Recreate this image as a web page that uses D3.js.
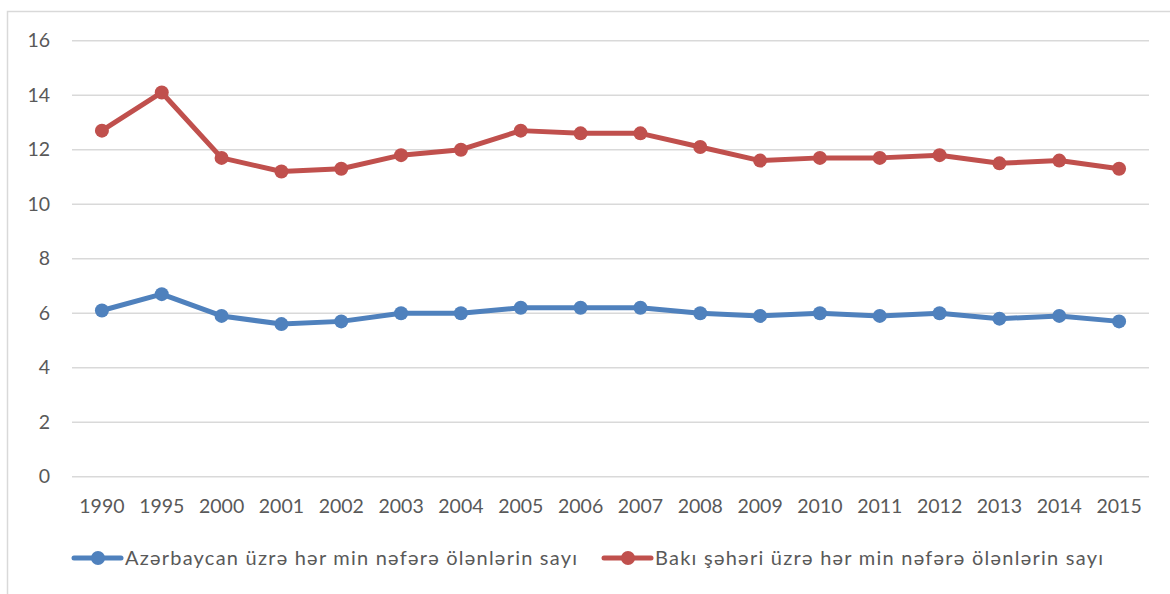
<!DOCTYPE html>
<html>
<head>
<meta charset="utf-8">
<script src="https://cdn.jsdelivr.net/npm/d3@7"></script>
<style>
  body { margin: 0; background: #fff; }
  text { font-family: Lato, "Open Sans", sans-serif; fill: #595959; }
</style>
</head>
<body>
<svg width="1170" height="594"></svg>
<script>
// data
var years = ["1990","1995","2000","2001","2002","2003","2004","2005","2006","2007","2008","2009","2010","2011","2012","2013","2014","2015"];
var azerbaijan = [6.1, 6.7, 5.9, 5.6, 5.7, 6.0, 6.0, 6.2, 6.2, 6.2, 6.0, 5.9, 6.0, 5.9, 6.0, 5.8, 5.9, 5.7];
var baku = [12.7, 14.1, 11.7, 11.2, 11.3, 11.8, 12.0, 12.7, 12.6, 12.6, 12.1, 11.6, 11.7, 11.7, 11.8, 11.5, 11.6, 11.3];
var yTicks = [0, 2, 4, 6, 8, 10, 12, 14, 16];
var seriesNames = ["Azərbaycan üzrə hər min nəfərə ölənlərin sayı", "Bakı şəhəri üzrə hər min nəfərə ölənlərin sayı"];

const color = {
  "az": "#4f81bd",
  "baku": "#c0504d",
  "grid": "#d9d9d9"
};

var svg = d3.select("svg");

// chart frame (cut by the image edges on right/bottom)
svg.append("rect")
  .attr("x", 7.5).attr("y", 11.5)
  .attr("width", 1200).attr("height", 700)
  .attr("fill", "none")
  .attr("stroke", color.grid)
  .attr("stroke-width", 1.5);

var x = d3.scaleBand().domain(years).range([72, 1149]);
var y = d3.scaleLinear().domain([0, 16]).range([476.7, 40.7]);

// gridlines
svg.append("g")
  .selectAll("line")
  .data(yTicks)
  .enter().append("line")
  .attr("x1", 72).attr("x2", 1149)
  .attr("y1", d => y(d)).attr("y2", d => y(d))
  .attr("stroke", color.grid)
  .attr("stroke-width", 1.5);

// y axis labels
var yAxis = svg.append("g")
  .attr("transform", "translate(50,0)")
  .call(d3.axisLeft(y).tickValues(yTicks).tickSize(0).tickPadding(0));
yAxis.select(".domain").remove();
yAxis.selectAll("text")
  .style("font-size", "19.5px")
  .style("font-family", "Lato, 'Open Sans', sans-serif")
  .attr("fill", "#595959");

// x axis labels
var xAxis = svg.append("g")
  .attr("transform", "translate(0,499)")
  .call(d3.axisBottom(x).tickSize(0).tickPadding(0));
xAxis.select(".domain").remove();
xAxis.selectAll("text")
  .style("font-size", "19.5px")
  .style("font-family", "Lato, 'Open Sans', sans-serif")
  .attr("fill", "#595959");

var line = d3.line()
  .x((d, i) => x(years[i]) + x.bandwidth() / 2)
  .y(d => y(d));

function draw_series(values, col) {
  var g = svg.append("g");
  g.append("path")
    .datum(values)
    .attr("d", line)
    .attr("fill", "none")
    .attr("stroke", col)
    .attr("stroke-width", 5)
    .attr("stroke-linejoin", "round");
  g.selectAll("circle")
    .data(values)
    .enter().append("circle")
    .attr("cx", (d, i) => x(years[i]) + x.bandwidth() / 2)
    .attr("cy", d => y(d))
    .attr("r", 7)
    .attr("fill", col);
}

draw_series(azerbaijan, color.az);
draw_series(baku, color.baku);

// legend
var legendItems = [
  {name: seriesNames[0], col: color.az, x0: 74, len: 452},
  {name: seriesNames[1], col: color.baku, x0: 604, len: 448}
];
var legend = svg.append("g")
  .selectAll("g")
  .data(legendItems)
  .enter().append("g")
  .attr("transform", d => "translate(" + d.x0 + ",558)");
legend.append("line")
  .attr("x1", 0).attr("x2", 47)
  .attr("y1", 0).attr("y2", 0)
  .attr("stroke", d => d.col)
  .attr("stroke-width", 5)
  .attr("stroke-linecap", "round");
legend.append("circle")
  .attr("cx", 24).attr("cy", 0).attr("r", 7)
  .attr("fill", d => d.col);
legend.append("text")
  .attr("x", 51)
  .attr("dy", "0.35em")
  .attr("textLength", d => d.len)
  .attr("lengthAdjust", "spacing")
  .style("font-size", "20px")
  .text(d => d.name);
</script>
</body>
</html>
